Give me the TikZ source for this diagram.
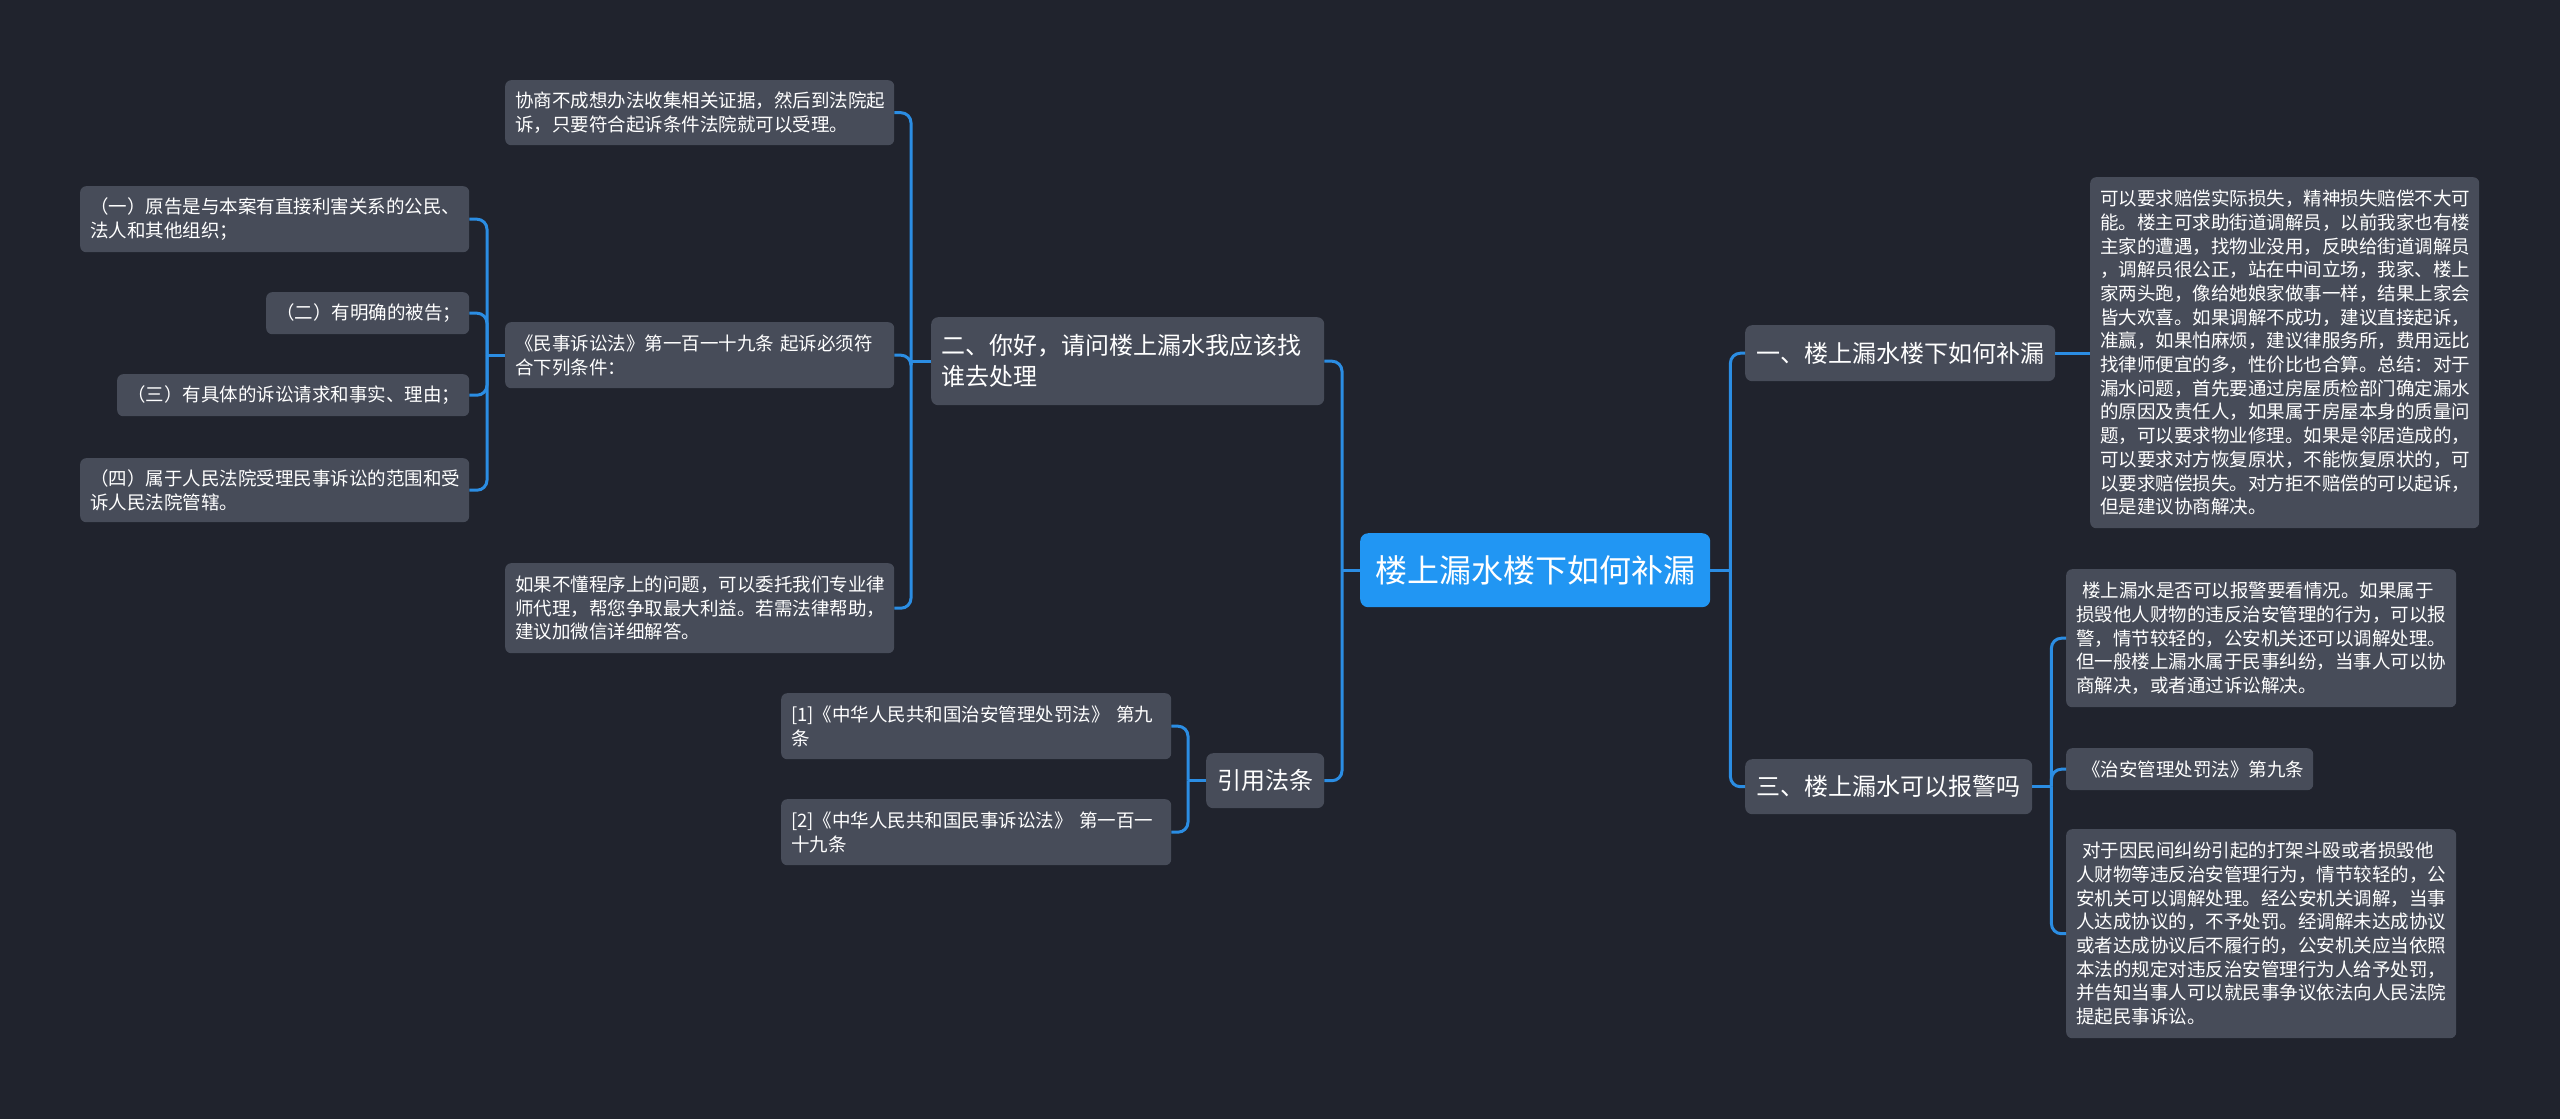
\documentclass[tikz,border=0pt]{standalone}
\usepackage{fontspec}
\newfontfamily\cjk{Noto Sans CJK SC}
\definecolor{bgc}{HTML}{20232D}
\definecolor{nodefill}{HTML}{474C59}
\definecolor{linec}{HTML}{2B8DE3}
\definecolor{rootfill}{HTML}{2196F3}
\begin{document}
\begin{tikzpicture}[x=1pt,y=-1pt,
  leaf/.style={fill=nodefill, rounded corners=6pt, text=white, align=left,
    inner xsep=10pt, inner ysep=1pt, anchor=north west,
    font=\cjk\fontsize{18.5}{23.7}\selectfont},
  mid/.style={fill=nodefill, rounded corners=7pt, text=white, align=left,
    inner xsep=10pt, inner ysep=1pt, anchor=north west,
    font=\cjk\fontsize{24}{31}\selectfont},
  rootbox/.style={fill=rootfill, rounded corners=8pt, text=white, align=center,
    inner sep=1pt, anchor=north west, font=\cjk\fontsize{32}{38}\selectfont},
  conn/.style={draw=linec, line width=3pt, rounded corners=10pt}]
\fill[bgc] (0,0) rectangle (2560,1119);
\useasboundingbox (0,0) rectangle (2560,1119);

% root
\node[rootbox, minimum width=350pt, minimum height=74pt] (root) at (1360,533) {楼上漏水楼下如何补漏};

% right branch
\node[mid, minimum width=310pt, minimum height=56pt, align=center] (r1) at (1745,325) {一、楼上漏水楼下如何补漏};
\node[mid, minimum width=287pt, minimum height=55pt, align=center] (r3) at (1745,759) {三、楼上漏水可以报警吗};

\node[leaf, text width=369pt, minimum height=351pt] (r1a) at (2090,177) {可以要求赔偿实际损失，精神损失赔偿不大可\\能。楼主可求助街道调解员，以前我家也有楼\\主家的遭遇，找物业没用，反映给街道调解员\\，调解员很公正，站在中间立场，我家、楼上\\家两头跑，像给她娘家做事一样，结果上家会\\皆大欢喜。如果调解不成功，建议直接起诉，\\准赢，如果怕麻烦，建议律服务所，费用远比\\找律师便宜的多，性价比也合算。总结：对于\\漏水问题，首先要通过房屋质检部门确定漏水\\的原因及责任人，如果属于房屋本身的质量问\\题，可以要求物业修理。如果是邻居造成的，\\可以要求对方恢复原状，不能恢复原状的，可\\以要求赔偿损失。对方拒不赔偿的可以起诉，\\但是建议协商解决。};

\node[leaf, text width=370pt, minimum height=138pt] (r3a) at (2066,569) {\hspace*{6pt}楼上漏水是否可以报警要看情况。如果属于\\损毁他人财物的违反治安管理的行为，可以报\\警，情节较轻的，公安机关还可以调解处理。\\但一般楼上漏水属于民事纠纷，当事人可以协\\商解决，或者通过诉讼解决。};
\node[leaf, text width=227pt, minimum height=42pt] (r3b) at (2066,748) {\hspace*{6pt}《治安管理处罚法》第九条};
\node[leaf, text width=370pt, minimum height=209pt] (r3c) at (2066,829) {\hspace*{6pt}对于因民间纠纷引起的打架斗殴或者损毁他\\人财物等违反治安管理行为，情节较轻的，公\\安机关可以调解处理。经公安机关调解，当事\\人达成协议的，不予处罚。经调解未达成协议\\或者达成协议后不履行的，公安机关应当依照\\本法的规定对违反治安管理行为人给予处罚，\\并告知当事人可以就民事争议依法向人民法院\\提起民事诉讼。};

% left branch
\node[mid, text width=373pt, minimum height=88pt] (l2) at (931,317) {二、你好，请问楼上漏水我应该找\\谁去处理};
\node[mid, minimum width=118pt, minimum height=55pt, align=center] (cite) at (1206,753) {引用法条};

\node[leaf, text width=369pt, minimum height=65pt] (l2a) at (505,80) {协商不成想办法收集相关证据，然后到法院起\\诉，只要符合起诉条件法院就可以受理。};
\node[leaf, text width=369pt, minimum height=66pt] (l2b) at (505,322) {《民事诉讼法》第一百一十九条 起诉必须符\\合下列条件：};
\node[leaf, text width=369pt, minimum height=90pt] (l2c) at (505,563) {如果不懂程序上的问题，可以委托我们专业律\\师代理，帮您争取最大利益。若需法律帮助，\\建议加微信详细解答。};

\node[leaf, text width=369pt, minimum height=66pt] (k1) at (80,186) {（一）原告是与本案有直接利害关系的公民、\\法人和其他组织；};
\node[leaf, text width=183pt, minimum height=42pt] (k2) at (266,292) {（二）有明确的被告；};
\node[leaf, text width=332pt, minimum height=42pt] (k3) at (117,374) {（三）有具体的诉讼请求和事实、理由；};
\node[leaf, text width=369pt, minimum height=64pt] (k4) at (80,458) {（四）属于人民法院受理民事诉讼的范围和受\\诉人民法院管辖。};

\node[leaf, text width=370pt, minimum height=66pt] (c1) at (781,693) {[1]《中华人民共和国治安管理处罚法》 第九\\条};
\node[leaf, text width=370pt, minimum height=66pt] (c2) at (781,799) {[2]《中华人民共和国民事诉讼法》 第一百一\\十九条};

% junction points
\coordinate (jr) at ([xshift=20pt]root.east);
\coordinate (jl) at ([xshift=-18pt]root.west);
\coordinate (j3) at ([xshift=19pt]r3.east);
\coordinate (j2) at ([xshift=-20pt]l2.west);
\coordinate (jc) at ([xshift=-18pt]cite.west);
\coordinate (jk) at ([xshift=-18pt]l2b.west);

% connectors
\draw[conn] (root.east) -- (jr);
\draw[conn] (jr) |- (r1.west);
\draw[conn] (jr) |- (r3.west);
\draw[conn] (r1.east) -- (r1a.west |- r1.east);
\draw[conn] (r3.east) -- (j3);
\draw[conn] (j3) |- (r3a.west);
\draw[conn] (j3) |- (r3b.west);
\draw[conn] (j3) |- (r3c.west);

\draw[conn] (root.west) -- (jl);
\draw[conn] (jl) |- (l2.east);
\draw[conn] (jl) |- (cite.east);
\draw[conn] (l2.west) -- (j2);
\draw[conn] (j2) |- (l2a.east);
\draw[conn] (j2) |- (l2b.east);
\draw[conn] (j2) |- (l2c.east);
\draw[conn] (l2b.west) -- (jk);
\draw[conn] (jk) |- (k1.east);
\draw[conn] (jk) |- (k2.east);
\draw[conn] (jk) |- (k3.east);
\draw[conn] (jk) |- (k4.east);
\draw[conn] (cite.west) -- (jc);
\draw[conn] (jc) |- (c1.east);
\draw[conn] (jc) |- (c2.east);
\end{tikzpicture}
\end{document}
